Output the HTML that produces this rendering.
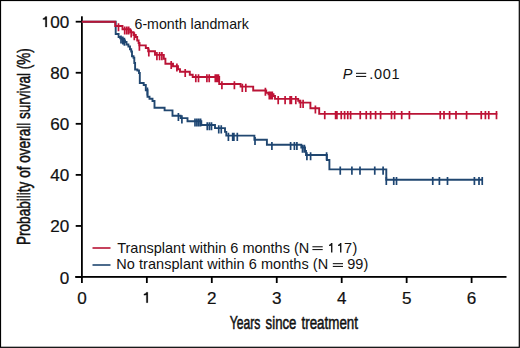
<!DOCTYPE html>
<html><head><meta charset="utf-8"><style>
html,body{margin:0;padding:0;background:#fff;}
body{width:520px;height:348px;overflow:hidden;}
svg{display:block;}
text{font-family:"Liberation Sans",sans-serif;fill:#111;}
.t{stroke:#111;stroke-width:0.2px;}
.h{stroke:#111;stroke-width:0.55px;}
</style></head><body>
<svg width="520" height="348" viewBox="0 0 520 348">
<rect x="0" y="0" width="520" height="348" fill="#fff"/>
<rect x="0.5" y="0.5" width="518.8" height="346.8" fill="none" stroke="#000" stroke-width="1.2"/>
<g fill="#000">
<rect x="81" y="16.3" width="1.8" height="261.5"/>
<rect x="75.2" y="276" width="431.3" height="1.8"/>
<rect x="75.7" y="276.10" width="6.1" height="1.8"/><rect x="75.7" y="225.04" width="6.1" height="1.8"/><rect x="75.7" y="173.98" width="6.1" height="1.8"/><rect x="75.7" y="122.92" width="6.1" height="1.8"/><rect x="75.7" y="71.86" width="6.1" height="1.8"/><rect x="75.7" y="20.80" width="6.1" height="1.8"/><rect x="81.00" y="276" width="1.8" height="7"/><rect x="145.95" y="276" width="1.8" height="7"/><rect x="210.90" y="276" width="1.8" height="7"/><rect x="275.85" y="276" width="1.8" height="7"/><rect x="340.80" y="276" width="1.8" height="7"/><rect x="405.75" y="276" width="1.8" height="7"/><rect x="470.70" y="276" width="1.8" height="7"/>
</g>
<g font-size="16" class="t"><text x="0" y="0" transform="translate(69.3 283.50) scale(1.07 1)" text-anchor="end">0</text><text x="0" y="0" transform="translate(69.3 232.44) scale(1.07 1)" text-anchor="end">20</text><text x="0" y="0" transform="translate(69.3 181.38) scale(1.07 1)" text-anchor="end">40</text><text x="0" y="0" transform="translate(69.3 130.32) scale(1.07 1)" text-anchor="end">60</text><text x="0" y="0" transform="translate(69.3 79.26) scale(1.07 1)" text-anchor="end">80</text><text x="0" y="0" transform="translate(69.3 28.20) scale(1.07 1)" text-anchor="end">00</text><path d="M46.90,16.50V27.10H45.30V19.40L42.90,19.50V18.40Q44.70,18.10 45.40,16.50Z" fill="#111"/><text x="0" y="0" transform="translate(81.90 303.9) scale(1.07 1)" text-anchor="middle">0</text><path d="M147.90,292.20V302.70H146.30V295.10L143.90,295.20V294.10Q145.70,293.80 146.40,292.20Z" fill="#111"/><text x="0" y="0" transform="translate(211.80 303.9) scale(1.07 1)" text-anchor="middle">2</text><text x="0" y="0" transform="translate(276.75 303.9) scale(1.07 1)" text-anchor="middle">3</text><text x="0" y="0" transform="translate(341.70 303.9) scale(1.07 1)" text-anchor="middle">4</text><text x="0" y="0" transform="translate(406.65 303.9) scale(1.07 1)" text-anchor="middle">5</text><text x="0" y="0" transform="translate(471.60 303.9) scale(1.07 1)" text-anchor="middle">6</text></g>
<path d="M81.8,21.7H115.7V34.0H118.6V37.0H120.2V38.3H122.0V39.3H123.5V40.5H125.0V42.0H126.5V44.5H128.4V46.5H130.0V49.2H131.2V51.5H132.0V56.2H133.5V57.7H134.3V63.0H135.1V69.5H137.4V70.5H139.0V73.0H139.8V83.0H143.7V85.0H145.8V90.3H147.5V96.7H149.5V98.8H152.5V101.0H154.5V107.7H164.6V110.4H172.5V115.8H180.6V118.1H187.5V121.3H201.3V125.0H215.0V128.1H225.0V131.9H226.3V135.6H254.4V139.8H266.9V144.7H301.3V147.5H305.0V151.0H306.0V155.0H326.9V160.0H329.4V169.4H386.3V179.8H483.0" fill="none" stroke="#214770" stroke-width="1.9" stroke-linejoin="miter" stroke-linecap="butt"/>
<path d="M121.00,35.5V43.6M122.80,36.5V44.6M124.40,37.7V45.8M147.40,87.5V95.6M178.40,113.0V121.1M181.90,115.3V123.4M195.00,118.5V126.6M196.90,118.5V126.6M198.75,118.5V126.6M200.60,118.5V126.6M207.25,122.2V130.3M209.40,122.2V130.3M211.50,122.2V130.3M218.75,125.3V133.4M221.25,125.3V133.4M228.40,132.8V140.9M232.70,132.8V140.9M233.90,132.8V140.9M237.30,132.8V140.9M255.00,137.0V145.1M271.90,141.9V150.0M290.60,141.9V150.0M294.40,141.9V150.0M296.90,141.9V150.0M302.50,144.7V152.8M304.40,144.7V152.8M306.90,152.2V160.3M310.60,152.2V160.3M326.60,152.2V160.3M340.25,166.6V174.7M351.90,166.6V174.7M360.00,166.6V174.7M374.75,166.6V174.7M383.10,166.6V174.7M386.30,177.0V185.1M393.75,177.0V185.1M396.50,177.0V185.1M432.75,177.0V185.1M439.40,177.0V185.1M447.50,177.0V185.1M474.40,177.0V185.1M479.00,177.0V185.1M482.25,177.0V185.1" fill="none" stroke="#1d4572" stroke-width="1.7"/>
<path d="M81.8,21.7H115.2V26.0H122.5V29.3H130.2V32.3H133.5V35.0H135.8V37.0H137.2V40.5H138.6V43.0H139.4V45.4H145.8V48.0H148.2V51.3H155.0V54.9H163.8V58.8H165.4V63.8H173.0V66.3H178.0V69.3H180.0V71.7H189.8V74.7H192.7V77.0H219.2V84.0H240.6V86.6H253.2V90.5H266.2V92.7H268.5V94.3H273.5V96.0H275.0V98.9H298.2V100.8H299.5V102.6H310.4V108.3H319.2V113.9H497.3" fill="none" stroke="#b91436" stroke-width="1.9" stroke-linejoin="miter" stroke-linecap="butt"/>
<path d="M118.50,23.2V31.3M124.70,26.5V34.6M126.80,26.5V34.6M128.70,26.5V34.6M131.20,29.5V37.6M134.30,32.2V40.3M139.40,42.6V50.7M148.80,48.5V56.6M156.90,52.1V60.2M159.60,52.1V60.2M161.90,52.1V60.2M171.20,61.0V69.1M176.90,63.5V71.6M185.20,68.9V77.0M195.80,74.2V82.3M198.50,74.2V82.3M206.90,74.2V82.3M209.20,74.2V82.3M215.30,74.2V82.3M216.40,74.2V82.3M217.50,74.2V82.3M218.50,74.2V82.3M221.90,81.2V89.3M234.40,81.2V89.3M242.30,83.8V91.9M245.80,83.8V91.9M265.40,87.7V95.8M269.30,91.5V99.6M270.80,91.5V99.6M272.30,91.5V99.6M278.20,96.1V104.2M285.10,96.1V104.2M290.10,96.1V104.2M291.40,96.1V104.2M295.80,96.1V104.2M300.50,99.8V107.9M303.10,99.8V107.9M315.40,105.5V113.6M324.75,111.1V119.2M335.60,111.1V119.2M336.90,111.1V119.2M341.25,111.1V119.2M344.60,111.1V119.2M347.75,111.1V119.2M350.60,111.1V119.2M360.25,111.1V119.2M366.25,111.1V119.2M370.60,111.1V119.2M375.60,111.1V119.2M380.60,111.1V119.2M391.50,111.1V119.2M394.60,111.1V119.2M401.70,111.1V119.2M409.40,111.1V119.2M440.25,111.1V119.2M444.00,111.1V119.2M449.60,111.1V119.2M456.00,111.1V119.2M466.60,111.1V119.2M481.25,111.1V119.2M485.40,111.1V119.2M488.75,111.1V119.2M496.50,111.1V119.2" fill="none" stroke="#c01236" stroke-width="1.7"/>
<text x="134.5" y="28.9" font-size="14.2">6-month landmark</text>
<text x="342.8" y="79.3" font-size="14.5" font-style="italic">P</text>
<rect x="356" y="72.8" width="10.2" height="1.1" fill="#1a1a1a"/><rect x="356" y="75.9" width="10.2" height="1.1" fill="#1a1a1a"/>
<text x="369.2" y="79.3" font-size="14.5" letter-spacing="0.7">.001</text>
<rect x="92.5" y="247.2" width="18" height="1.6" fill="#b91436"/>
<rect x="92.5" y="264.2" width="18" height="1.6" fill="#214770"/>
<text x="117.2" y="252.6" font-size="14.5">Transplant within 6 months (N</text>
<rect x="312.4" y="246.2" width="10.3" height="1.1" fill="#1a1a1a"/><rect x="312.4" y="249.0" width="10.3" height="1.1" fill="#1a1a1a"/>
<path d="M332.40,242.90V252.60H331.05V245.80L329.05,245.90V244.80Q330.45,244.50 331.15,242.90Z" fill="#111"/><path d="M341.40,242.90V252.60H340.05V245.80L338.05,245.90V244.80Q339.45,244.50 340.15,242.90Z" fill="#111"/><text x="343.9" y="252.6" font-size="14.5" letter-spacing="0.6">7)</text>
<text x="116.3" y="269.4" font-size="14.5" letter-spacing="0.05">No transplant within 6 months (N</text>
<rect x="332.8" y="263.1" width="10.2" height="1.1" fill="#1a1a1a"/><rect x="332.8" y="265.9" width="10.2" height="1.1" fill="#1a1a1a"/>
<text x="347.3" y="269.4" font-size="14.5">99)</text>
<g class="h" font-size="19"><text x="0" y="0" transform="translate(229.8 329.3) scale(0.64 1)">Years</text><text x="0" y="0" transform="translate(265.6 329.3) scale(0.695 1)">since</text><text x="0" y="0" transform="translate(301.5 329.3) scale(0.705 1)">treatment</text></g>
<text class="h" x="0" y="0" font-size="19" transform="translate(29.6 245) rotate(-90) scale(0.715 1)">Probability of overall survival (%)</text>
</svg>
</body></html>
